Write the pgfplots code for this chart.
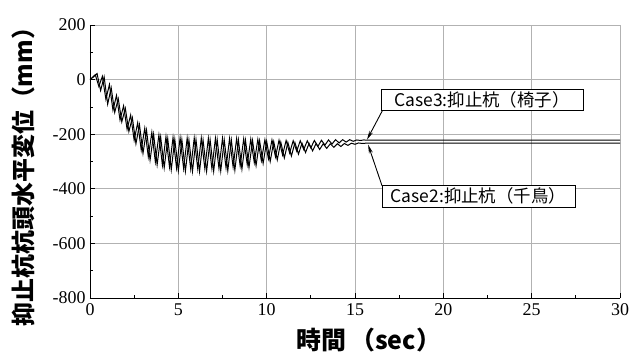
\documentclass[border=0pt]{standalone}
\usepackage{pgfplots}
\pgfplotsset{compat=1.18}
\usetikzlibrary{arrows.meta}
\usepackage{fontspec}
\setmainfont{Liberation Serif}
\newfontfamily\jp{Noto Sans CJK JP}
\begin{document}
\begin{tikzpicture}
\useasboundingbox (-90bp,-63bp) rectangle (539bp,298bp);
\begin{axis}[at={(0,0)}, anchor=south west, scale only axis,
  width=530bp, height=273bp,
  xmin=0, xmax=30, ymin=-800, ymax=200,
  xtick={0,5,...,30}, ytick={-800,-600,...,200},
  minor x tick num=1, minor y tick num=1,
  tick align=inside,
  major tick length=5bp, minor tick length=3bp,
  axis x line*=bottom, axis y line*=left,
  axis line style={-, line width=0.9bp, black},
  every tick/.style={black, line width=0.8bp},
  grid=major, major grid style={gray!60, line width=0.8bp},
  /pgf/number format/assume math mode=true,
  tick label style={font=\fontsize{18}{18}\selectfont},
  xticklabel style={yshift=-2bp},
  yticklabel style={xshift=-1bp},
  xlabel={\jp\bfseries 時間\,（sec）},
  xlabel style={at={(axis description cs:0.526,-0.154)}, anchor=center, font=\fontsize{25}{25}\selectfont},
  ylabel={\jp\bfseries 抑止杭杭頭水平変位（mm）},
  ylabel style={at={(axis description cs:-0.125,0.465)}, anchor=center, font=\fontsize{24}{24}\selectfont},
]
% Case2
\addplot[black, line width=1bp] coordinates {
(0,0) (0.2,10) (0.4,22) (0.6,-40) (0.8,10) (1.0,-90) (1.2,-30) (1.4,-120) (1.6,-70) (1.8,-155)
(2.0,-105) (2.2,-190) (2.4,-140) (2.6,-235) (2.8,-165) (3.0,-270) (3.2,-185) (3.4,-295) (3.6,-200) (3.8,-312)
(4.0,-210) (4.2,-323) (4.4,-216) (4.6,-330) (4.8,-219) (5.0,-334) (5.2,-220) (5.4,-336) (5.6,-221) (5.8,-336)
(6.0,-220) (6.2,-337) (6.4,-221) (6.6,-336) (6.8,-221) (7.0,-336) (7.2,-220) (7.4,-335) (7.6,-221) (7.8,-334)
(8.0,-221) (8.2,-332) (8.4,-221) (8.6,-328) (8.8,-222) (9.0,-322) (9.2,-223) (9.4,-315) (9.6,-224) (9.8,-307)
(10.0,-226) (10.2,-300) (10.4,-227) (10.6,-294) (10.8,-229) (11.0,-287) (11.2,-230) (11.4,-280) (11.6,-231) (11.8,-273)
(12.0,-233) (12.2,-267) (12.4,-234) (12.6,-261) (12.8,-234) (13.0,-256) (13.2,-235) (13.4,-252) (13.6,-235) (13.8,-248)
(14.0,-235) (14.2,-245) (14.4,-234) (14.6,-241) (14.8,-233) (15.0,-237) (15.2,-232) (15.4,-234) (15.6,-233) (15.8,-233)
(16.0,-233) (30,-233)
};
% Case3
\addplot[black, line width=1bp] coordinates {
(0,0) (0.3,18) (0.5,-25) (0.7,12) (0.9,-72) (1.1,-18) (1.3,-112) (1.5,-58) (1.7,-148) (1.9,-96)
(2.1,-182) (2.3,-130) (2.5,-222) (2.7,-158) (2.9,-258) (3.1,-178) (3.3,-283) (3.5,-193) (3.7,-302) (3.9,-203)
(4.1,-314) (4.3,-209) (4.5,-320) (4.7,-212) (4.9,-324) (5.1,-213) (5.3,-326) (5.5,-214) (5.7,-327) (5.9,-214)
(6.1,-327) (6.3,-214) (6.5,-326) (6.7,-215) (6.9,-326) (7.1,-215) (7.3,-325) (7.5,-215) (7.7,-323) (7.9,-216)
(8.1,-320) (8.3,-216) (8.5,-316) (8.7,-217) (8.9,-311) (9.1,-218) (9.3,-304) (9.5,-219) (9.7,-297) (9.9,-220)
(10.1,-290) (10.3,-221) (10.5,-283) (10.7,-222) (10.9,-276) (11.1,-223) (11.3,-269) (11.5,-224) (11.7,-262) (11.9,-224)
(12.1,-256) (12.3,-224) (12.5,-250) (12.7,-223) (12.9,-245) (13.1,-222) (13.3,-240) (13.5,-221) (13.7,-236) (13.9,-220)
(14.1,-232) (14.3,-220) (14.5,-229) (14.7,-220) (14.9,-226) (15.1,-221) (15.3,-223) (15.5,-221) (15.7,-222) (16.0,-222)
(30,-222)
};
\draw[-{Stealth[length=9bp,width=4bp]}, line width=0.9bp] (axis cs:16.58,-110) -- (axis cs:15.68,-220);
\draw[-{Stealth[length=9bp,width=4bp]}, line width=0.9bp] (axis cs:16.53,-389) -- (axis cs:15.74,-238);
\node[draw, line width=0.6bp, fill=white, inner sep=1bp, minimum width=202bp, minimum height=21bp,
  font=\jp\fontsize{17.5}{17.5}\selectfont] at (axis cs:22.19,-73.4) {Case3:抑止杭（椅子）};
\node[draw, line width=0.6bp, fill=white, inner sep=1bp, minimum width=193bp, minimum height=22bp,
  font=\jp\fontsize{17.5}{17.5}\selectfont] at (axis cs:21.99,-425.7) {Case2:抑止杭（千鳥）};
\end{axis}
\end{tikzpicture}
\end{document}
